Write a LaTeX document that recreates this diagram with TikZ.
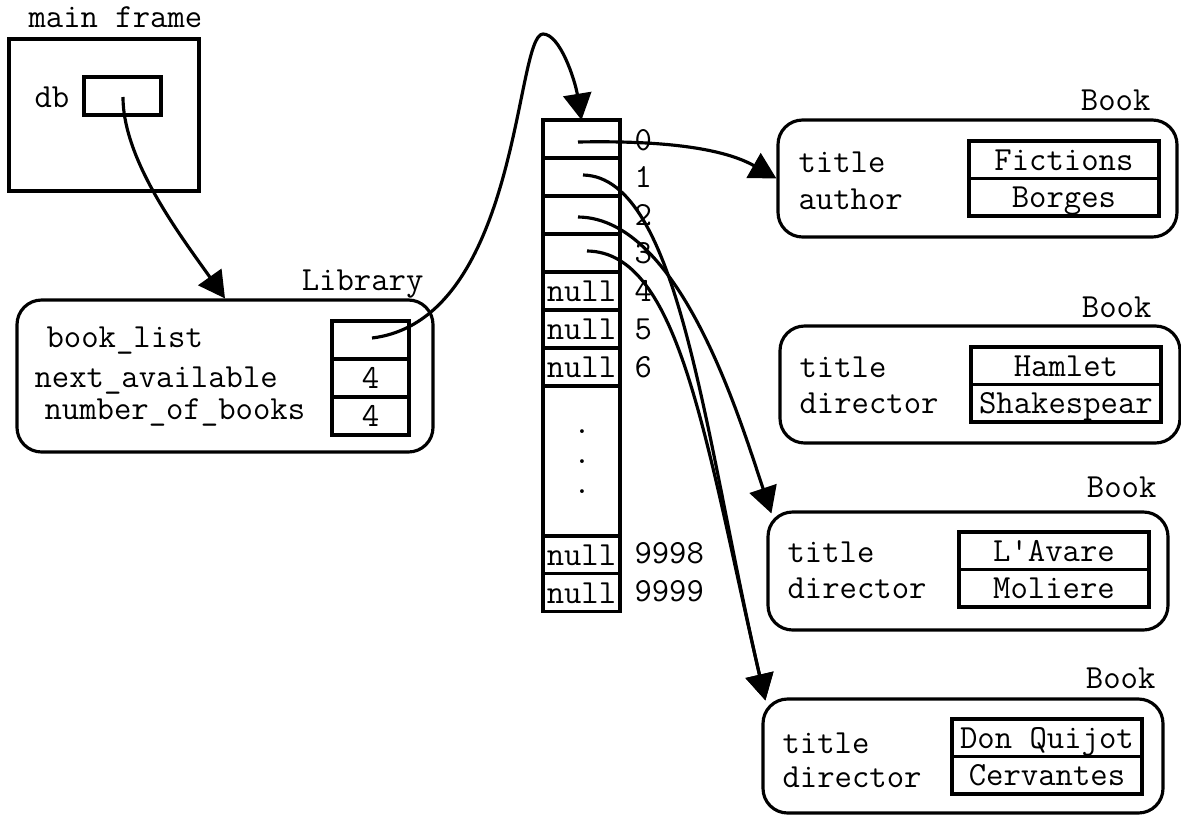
\documentclass[tikz,border=0pt]{standalone}
\usetikzlibrary{arrows.meta,positioning,fit}

\tikzset{
  box/.style={draw,inner sep=0pt,outer sep=0pt},
  roundbox/.style={draw,rounded corners=14pt,inner sep=0pt},
  cell/.style={draw,minimum width=1.54cm,minimum height=0.76cm,inner sep=0pt,outer sep=0pt,text height=11.7pt,text depth=0pt},
  field/.style={draw,minimum width=3.8cm,minimum height=0.75cm,inner sep=0pt,outer sep=0pt,text height=11.7pt,text depth=0pt},
  lbl/.style={anchor=base west,inner sep=0pt},
  rlbl/.style={anchor=base east,inner sep=0pt},
  dotmark/.style={inner sep=0pt,align=center,font=\ttfamily\fontsize{19.2}{17.07}\selectfont},
  ptr/.style={-{Triangle[length=15pt,width=16pt]}}
}

\begin{document}
\begin{tikzpicture}[x=0.02cm,y=-0.02cm,line width=1.8pt,font=\ttfamily\fontsize{19.2}{22}\selectfont]
  \useasboundingbox (0,0) rectangle (1181,815);

  % main frame
  \node[lbl] (mainlbl) at (27,27) {main frame};
  \node[box,fit={(9,39) (199,191)}] (mainframe) {};
  \node[lbl] (dblbl) at (33,107) {db};
  \node[box,fit={(84,77) (161,115)}] (db) {};
  \coordinate (dbptr) at (123,97);

  % library object
  \node[rlbl] (liblbl) at (425,290) {Library};
  \node[roundbox,fit={(17,300) (433,452)}] (library) {};
  \node[lbl] (listlbl) at (45,347) {book\_list};
  \node[lbl] (nextlbl) at (33,387) {next\_available};
  \node[lbl] (numlbl) at (43,419) {number\_of\_books};
  \node[cell,anchor=north west] (booklist) at (332,321) {};
  \node[cell,below=0pt of booklist] (nextavail) {4};
  \node[cell,below=0pt of nextavail] (numbooks) {4};
  \coordinate (listptr) at (372,338);

  % the array
  \node[cell,anchor=north west] (s0) at (543,120) {};
  \node[cell,below=0pt of s0] (s1) {};
  \node[cell,below=0pt of s1] (s2) {};
  \node[cell,below=0pt of s2] (s3) {};
  \node[cell,below=0pt of s3] (s4) {null};
  \node[cell,below=0pt of s4] (s5) {null};
  \node[cell,below=0pt of s5] (s6) {null};
  \node[cell,below=0pt of s6,minimum height=3cm] (sgap) {};
  \node[cell,below=0pt of sgap] (s9998) {null};
  \node[cell,below=0pt of s9998] (s9999) {null};
  \node[dotmark] (dots) at (582,462) {.\\.\\.};
  \node[lbl] (i0) at ([shift={(13,-7)}]s0.south east) {0};
  \node[lbl] (i1) at ([shift={(13,-8)}]s1.south east) {1};
  \node[lbl] (i2) at ([shift={(13,-8)}]s2.south east) {2};
  \node[lbl] (i3) at ([shift={(13,-8)}]s3.south east) {3};
  \node[lbl] (i4) at ([shift={(13,-8)}]s4.south east) {4};
  \node[lbl] (i5) at ([shift={(13,-8)}]s5.south east) {5};
  \node[lbl] (i6) at ([shift={(13,-8)}]s6.south east) {6};
  \node[lbl] (i9998) at ([shift={(13,-10)}]s9998.south east) {9998};
  \node[lbl] (i9999) at ([shift={(13,-10)}]s9999.south east) {9999};
  \coordinate (p0) at (578,142);
  \coordinate (p1) at (583,175);
  \coordinate (p2) at (578,217);
  \coordinate (p3) at (587,251);

  % books
  \node[rlbl] (book1lbl) at (1152,110) {Book};
  \node[roundbox,fit={(778,120) (1177,237)}] (book1) {};
  \node[lbl] (t1lbl) at (797,172) {title};
  \node[lbl] (a1lbl) at (797,209) {author};
  \node[field,anchor=north west] (title1) at (969,141) {Fictions};
  \node[field,below=0pt of title1] (author1) {Borges};

  \node[rlbl] (book2lbl) at (1153,317) {Book};
  \node[roundbox,fit={(780,326) (1180,443)}] (book2) {};
  \node[lbl] (t2lbl) at (798,377) {title};
  \node[lbl] (d2lbl) at (798,413) {director};
  \node[field,anchor=north west] (title2) at (971,347) {Hamlet};
  \node[field,below=0pt of title2] (author2) {Shakespear};

  \node[rlbl] (book3lbl) at (1158,497) {Book};
  \node[roundbox,fit={(768,512) (1168,630)}] (book3) {};
  \node[lbl] (t3lbl) at (786,562) {title};
  \node[lbl] (d3lbl) at (786,598) {director};
  \node[field,anchor=north west] (title3) at (959,532) {L'Avare};
  \node[field,below=0pt of title3] (author3) {Moliere};

  \node[rlbl] (book4lbl) at (1157,688) {Book};
  \node[roundbox,fit={(763,699) (1163,813)}] (book4) {};
  \node[lbl] (t4lbl) at (781,753) {title};
  \node[lbl] (d4lbl) at (781,787) {director};
  \node[field,anchor=north west] (title4) at (952,719) {Don Quijot};
  \node[field,below=0pt of title4] (author4) {Cervantes};

  % pointers
  \draw[ptr] (dbptr) .. controls (123,160) and (180,235) .. (library.north);
  \draw[ptr] (listptr) .. controls (520,320) and (515,34) .. (543,34)
    .. controls (560,34) and (575,80) .. (s0.north);
  \draw[ptr] (p0) .. controls (680,140) and (730,152) .. (book1.west);
  \draw[ptr] (p2) .. controls (680,218) and (740,420) .. ([shift={(5,3)}]book3.north west);
  \draw[ptr] (p1) .. controls (680,177) and (705,440) .. ([shift={(4,3)}]book4.north west);
  \draw[ptr] (p3) .. controls (680,252) and (705,440) .. ([shift={(4,3)}]book4.north west);
\end{tikzpicture}
\end{document}
